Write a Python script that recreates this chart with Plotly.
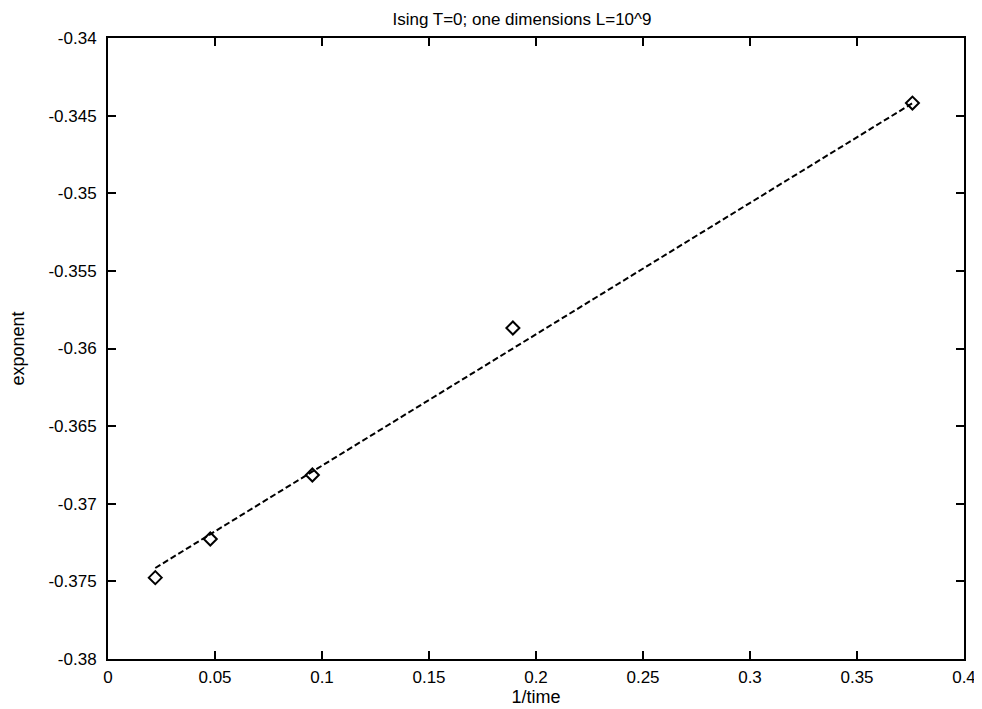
import plotly.graph_objects as go

# Data
inv_time = [0.0221, 0.0478, 0.0955, 0.1892, 0.3759]
exponent = [-0.37476, -0.37227, -0.36815, -0.35868, -0.34419]

fit_x = [0.0221, 0.3759]
fit_y = [-0.37414, -0.34420]

x_ticks = [0, 0.05, 0.1, 0.15, 0.2, 0.25, 0.3, 0.35, 0.4]
x_tick_labels = ["0", "0.05", "0.1", "0.15", "0.2", "0.25", "0.3", "0.35", "0.4"]
y_ticks = [-0.38, -0.375, -0.37, -0.365, -0.36, -0.355, -0.35, -0.345, -0.34]
y_tick_labels = ["-0.38", "-0.375", "-0.37", "-0.365", "-0.36", "-0.355", "-0.35", "-0.345", "-0.34"]

FONT = "Liberation Sans, Arial, Helvetica, sans-serif"

fig = go.Figure()
fig.add_trace(go.Scatter(
    x=fit_x, y=fit_y, mode="lines",
    line=dict(color="black", width=2, dash="6px,3px"),
    showlegend=False, hoverinfo="skip"))
fig.add_trace(go.Scatter(
    x=inv_time, y=exponent, mode="markers",
    marker=dict(symbol="diamond-open", size=10, color="black", line=dict(width=2, color="black")),
    showlegend=False))

fig.update_layout(
    width=982, height=709,
    paper_bgcolor="white", plot_bgcolor="white",
    margin=dict(l=100, r=26, t=30, b=58, autoexpand=False),
    font=dict(family=FONT, size=17, color="black"),
    title=dict(text="Ising T=0; one dimensions L=10^9", x=0.5234, xanchor="center",
               y=0.993, yanchor="top", font=dict(size=17, family=FONT, color="black")),
)
fig.update_xaxes(
    range=[0, 0.4], tickvals=x_ticks, ticktext=x_tick_labels,
    ticks="inside", ticklen=8, tickwidth=1.5, tickcolor="black",
    showline=True, linecolor="black", linewidth=2, mirror="allticks",
    showgrid=False, zeroline=False, ticklabelstandoff=2,
    title=dict(text="1/time", standoff=0, font=dict(size=18)),
)
fig.update_yaxes(
    range=[-0.38, -0.34], tickvals=y_ticks, ticktext=y_tick_labels,
    ticks="inside", ticklen=8, tickwidth=1.5, tickcolor="black",
    showline=True, linecolor="black", linewidth=2, mirror="allticks",
    showgrid=False, zeroline=False, ticklabelstandoff=6,
    title=dict(text="exponent", standoff=27, font=dict(size=18)),
)

fig.write_html("out.html")
